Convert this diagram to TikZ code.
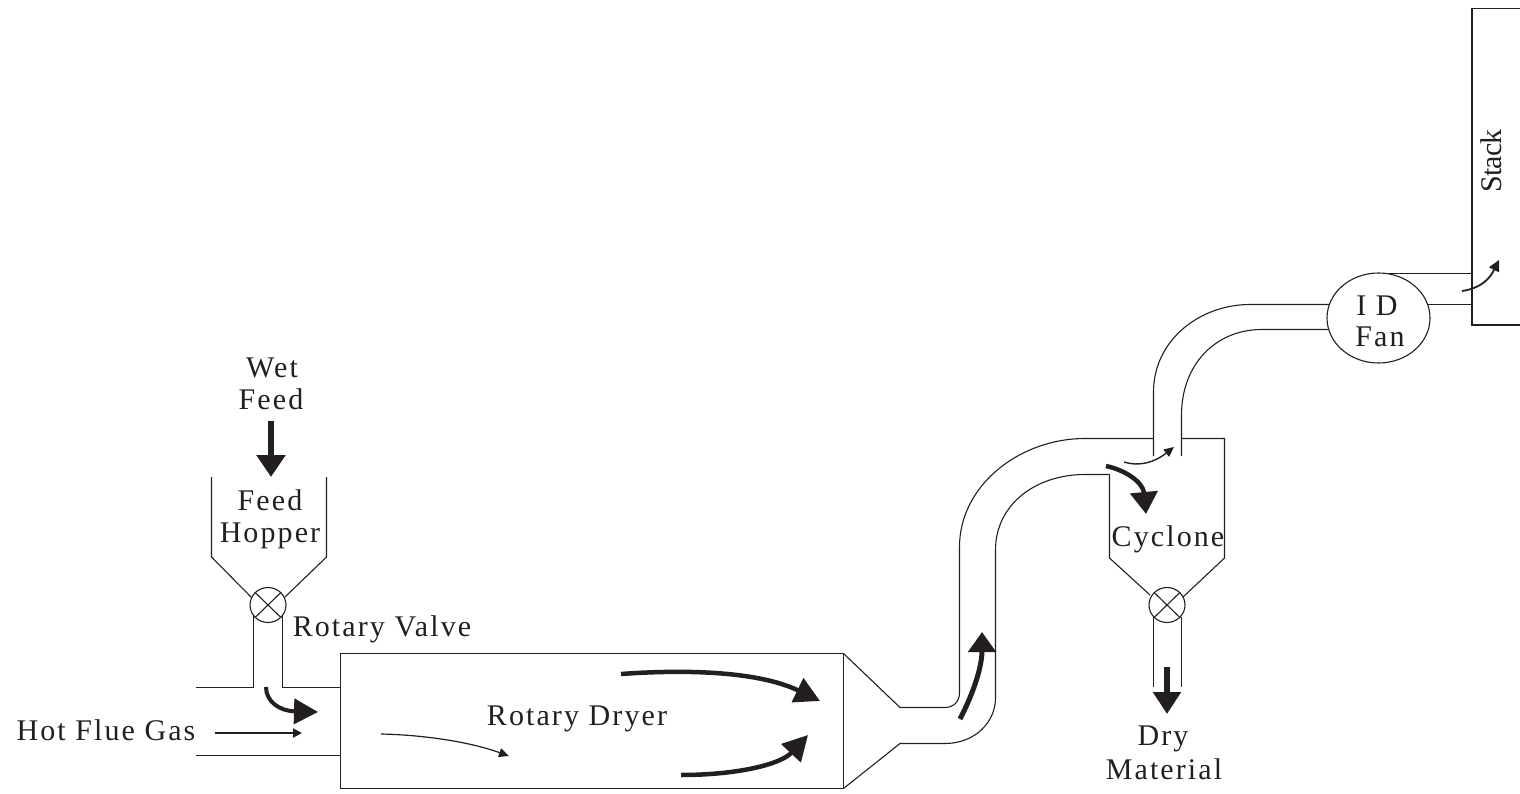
\documentclass[tikz,border=0pt]{standalone}
\usepackage{fontspec}
\setmainfont{Liberation Serif}
\newfontfamily\wideserif[LetterSpace=7]{Liberation Serif}
\newfontfamily\tightserif[LetterSpace=-3]{Liberation Serif}
\usetikzlibrary{arrows.meta,shapes.geometric}
\definecolor{ink}{HTML}{231F20}
\tikzset{
  x=1pt,y=-1pt,
  wall/.style={draw=ink,line width=1.1pt,line join=miter},
  label/.style={font=\wideserif\fontsize{30}{34}\selectfont,text=ink,inner sep=0pt,align=center},
  valve/.style={ellipse,draw=ink,line width=1.1pt,minimum width=36pt,minimum height=35pt,inner sep=0pt,fill=white},
  bigflow/.style={draw=ink,line width=5pt,-{Triangle[length=23pt,width=31pt]}},
  midflow/.style={draw=ink,line width=4pt,-{Triangle[length=24pt,width=25pt]}},
  fineflow/.style={draw=ink,line width=1.5pt,-{Triangle[length=10pt,width=9pt]}}
}
\begin{document}
\begin{tikzpicture}
\useasboundingbox (0,0) rectangle (1520,794);
% named end points of the flow arrows
\coordinate (wfA) at (271,421); \coordinate (wfB) at (271,477);
\coordinate (hfA) at (215,733); \coordinate (hfB) at (302,733);
\coordinate (inA) at (266,687); \coordinate (inB) at (318,712);
\coordinate (rdA) at (381,734); \coordinate (rdB) at (509,756);
\coordinate (upA) at (621,674); \coordinate (upB) at (820,701);
\coordinate (loA) at (681,775); \coordinate (loB) at (808,735);
\coordinate (riA) at (960,719); \coordinate (riB) at (982,632);
\coordinate (cyA) at (1106,466); \coordinate (cyB) at (1146,514);
\coordinate (gaA) at (1124,462); \coordinate (gaB) at (1174,447);
\coordinate (dmA) at (1167,667); \coordinate (dmB) at (1167,714);
\coordinate (stA) at (1462,291); \coordinate (stB) at (1499,260);
% rotary dryer and its transition
\draw[wall] (843.5,653.5) -- (340.5,653.5) -- (340.5,788.5) -- (843.5,788.5) -- cycle;
\draw[wall] (843.5,653.5) -- (900,707.5) -- (945,707.5)
  .. controls (953,707.5) and (959.5,702) .. (959.5,693) -- (959.5,547)
  .. controls (959.5,485) and (1020,438.5) .. (1085,438.5) -- (1153.5,438.5);
\draw[wall] (843.5,788.5) -- (900,743.5) -- (945,743.5)
  .. controls (975,743.5) and (995.5,722) .. (995.5,698) -- (995.5,550)
  .. controls (995.5,505) and (1035,474.5) .. (1085,474.5) -- (1109.5,474.5);
% feed hopper, valve and inlet duct
\draw[wall] (211.5,477) -- (211.5,557) -- (251,597);
\draw[wall] (326.5,477) -- (326.5,557) -- (285,597);
\draw[wall] (253.5,616) -- (253.5,687.5) -- (196,687.5);
\draw[wall] (282.5,616) -- (282.5,687.5) -- (340.5,687.5);
\draw[wall] (196,755.5) -- (340.5,755.5);
% cyclone
\draw[wall] (1109.5,474.5) -- (1109.5,558) -- (1150,595);
\draw[wall] (1181.5,438.5) -- (1224.5,438.5) -- (1224.5,558) -- (1183,597);
\draw[wall] (1153.5,617) -- (1153.5,687);
\draw[wall] (1181.5,617) -- (1181.5,687);
% duct to the fan
\draw[wall] (1153.5,456) -- (1153.5,392)
  .. controls (1153.5,340) and (1200,304.5) .. (1250,304.5) -- (1330,304.5);
\draw[wall] (1181.5,456) -- (1181.5,415)
  .. controls (1181.5,365) and (1215,329.5) .. (1262,329.5) -- (1328,329.5);
% fan and stack
\draw[wall] (1378,273.5) -- (1472,273.5);
\draw[wall] (1428,304.5) -- (1472,304.5);
\node[valve,minimum width=103pt,minimum height=90pt] (fan) at (1378.5,318) {};
\draw[draw=ink,line width=1.6pt] (1520,8.5) -- (1472,8.5) -- (1472,325) -- (1520,325);
% rotary valves
\node[valve] (valveA) at (268,605) {};
\node[valve] (valveB) at (1167,605) {};
\foreach \v in {valveA,valveB}{
  \draw[wall] (\v.north west) -- (\v.south east);
  \draw[wall] (\v.north east) -- (\v.south west);
}
% flow arrows
\draw[bigflow,line width=6.5pt,-{Triangle[length=22pt,width=28pt]}] (wfA) -- (wfB);
\draw[bigflow,line width=6.5pt,-{Triangle[length=22pt,width=27pt]}] (dmA) -- (dmB);
\draw[draw=ink,line width=2.2pt,-{Triangle[length=9pt,width=9pt]}] (hfA) -- (hfB);
\draw[midflow] (inA) .. controls (266,702) and (280,711) .. (inB);
\draw[fineflow,line width=1.2pt] (rdA) .. controls (425,735) and (470,742) .. (rdB);
\draw[midflow,line width=4.5pt,-{Triangle[length=25pt,width=26pt]}] (upA) .. controls (690,669) and (760,672) .. (upB);
\draw[midflow,line width=4.5pt,-{Triangle[length=25pt,width=26pt]}] (loA) .. controls (735,775) and (780,765) .. (loB);
\draw[midflow,line width=5pt,-{Triangle[length=20pt,width=27pt]}] (riA) .. controls (975,690) and (982,665) .. (riB);
\draw[midflow,line width=4.5pt,-{Triangle[length=22pt,width=27pt]}] (cyA) .. controls (1125,470) and (1143,482) .. (cyB);
\draw[fineflow,line width=1.4pt] (gaA) .. controls (1140,467) and (1155,462) .. (gaB);
\draw[fineflow,line width=1.8pt,-{Triangle[length=11pt,width=11pt]}] (stA) .. controls (1482,288) and (1490,278) .. (stB);
% labels
\node[label] (wet) at (272,368) {Wet};
\node[label] (feedA) at (271,399) {Feed};
\node[label] (feedB) at (270,500) {Feed};
\node[label] (hopper) at (270,536) {Hopper};
\node[label] (valvelabel) at (382,629) {Rotary Valve};
\node[label] (hot) at (106,730) {Hot Flue Gas};
\node[label] (dryer) at (577,719) {Rotary Dryer};
\node[label] (cyclone) at (1168,539) {Cyclone};
\node[label] (dry) at (1163,739) {Dry};
\node[label] (material) at (1164,769) {Material};
\node[label] (id) at (1377,306) {I D};
\node[label] (fanlabel) at (1380,337) {Fan};
\node[label,font=\tightserif\fontsize{30}{34}\selectfont,rotate=90] (stack) at (1491,161) {Stack};
\end{tikzpicture}
\end{document}
